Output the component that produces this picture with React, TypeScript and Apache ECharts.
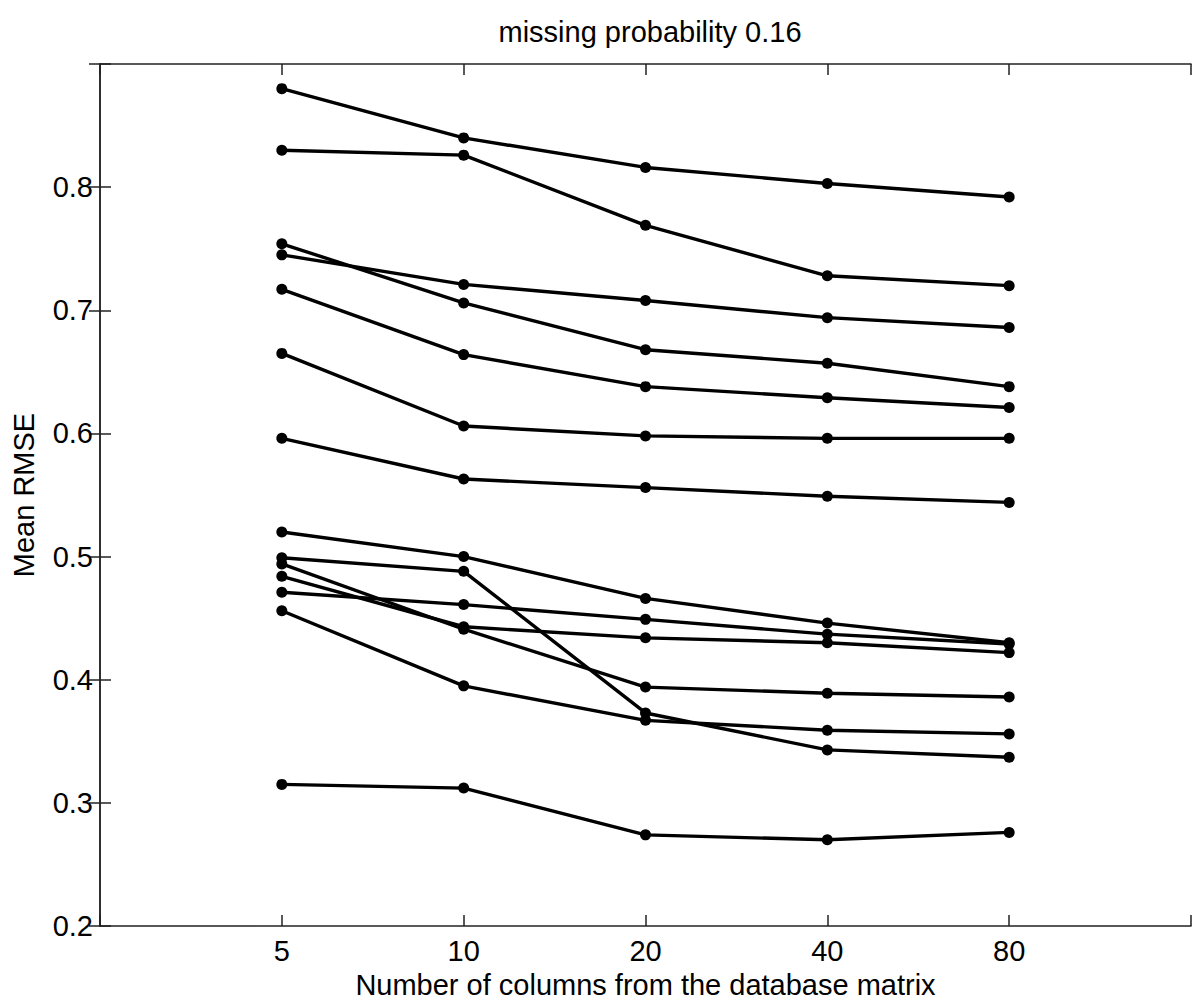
import React, { useEffect, useRef } from "react";
import * as echarts from "echarts";

const columnLabels = ["5", "10", "20", "40", "80"];
const yTicks = [0.2, 0.3, 0.4, 0.5, 0.6, 0.7, 0.8];

const series01 = [0.880, 0.840, 0.816, 0.803, 0.792];
const series02 = [0.830, 0.826, 0.769, 0.728, 0.720];
const series03 = [0.754, 0.706, 0.668, 0.657, 0.638];
const series04 = [0.745, 0.721, 0.708, 0.694, 0.686];
const series05 = [0.717, 0.664, 0.638, 0.629, 0.621];
const series06 = [0.665, 0.606, 0.598, 0.596, 0.596];
const series07 = [0.596, 0.563, 0.556, 0.549, 0.544];
const series08 = [0.520, 0.500, 0.466, 0.446, 0.430];
const series09 = [0.499, 0.488, 0.373, 0.343, 0.337];
const series10 = [0.494, 0.441, 0.394, 0.389, 0.386];
const series11 = [0.484, 0.443, 0.434, 0.430, 0.422];
const series12 = [0.471, 0.461, 0.449, 0.437, 0.429];
const series13 = [0.456, 0.395, 0.367, 0.359, 0.356];
const series14 = [0.315, 0.312, 0.274, 0.270, 0.276];

const allSeries = [
  series01, series02, series03, series04, series05, series06, series07,
  series08, series09, series10, series11, series12, series13, series14,
];

const FONT = "'Liberation Sans', Arial, Helvetica, sans-serif";
const FS = 29;

export default function App() {
  const ref = useRef<HTMLDivElement>(null);
  useEffect(() => {
    if (!ref.current) return;
    const chart = echarts.init(ref.current, undefined, { renderer: "svg" });
    const axisLine = { show: true, lineStyle: { color: "#222", width: 1.5 } };
    const tick = { show: true, inside: true, length: 11, lineStyle: { color: "#222", width: 1.5 } };
    chart.setOption({
      animation: false,
      backgroundColor: "#fff",
      title: {
        text: "missing probability 0.16",
        left: 645,
        top: 12,
        textAlign: "center",
        textStyle: { fontFamily: FONT, fontSize: FS, fontWeight: "normal", color: "#000" },
      },
      grid: { left: 100, top: 64, width: 1091, height: 868, containLabel: false },
      xAxis: [
        {
          type: "value",
          min: 0,
          max: 6,
          interval: 1,
          position: "bottom",
          axisLine,
          axisTick: tick,
          splitLine: { show: false },
          axisLabel: {
            show: true,
            margin: 10,
            fontFamily: FONT,
            fontSize: FS,
            color: "#000",
            formatter: (v: number) => columnLabels[Math.round(v) - 1] ?? "",
          },
          name: "Number of columns from the database matrix",
          nameLocation: "middle",
          nameGap: 44,
          nameTextStyle: { fontFamily: FONT, fontSize: FS, color: "#000" },
        },
        {
          type: "value",
          min: 0,
          max: 6,
          interval: 1,
          position: "top",
          axisLine,
          axisTick: tick,
          splitLine: { show: false },
          axisLabel: { show: false },
        },
      ],
      yAxis: [
        {
          type: "value",
          min: 0.2,
          max: 0.9,
          interval: 0.1,
          position: "left",
          axisLine,
          axisTick: tick,
          splitLine: { show: false },
          axisLabel: {
            show: true,
            margin: 7,
            fontFamily: FONT,
            fontSize: FS,
            color: "#000",
            formatter: (v: number) => {
              const hit = yTicks.find((t) => Math.abs(t - v) < 1e-6);
              return hit !== undefined ? hit.toFixed(1) : "";
            },
          },
          name: "Mean RMSE",
          nameLocation: "middle",
          nameRotate: 90,
          nameGap: 62,
          nameTextStyle: { fontFamily: FONT, fontSize: FS, color: "#000" },
        },
        {
          type: "value",
          min: 0.2,
          max: 0.9,
          interval: 0.1,
          position: "right",
          axisLine,
          axisTick: tick,
          splitLine: { show: false },
          axisLabel: { show: false },
        },
      ],
      series: allSeries.map((vals, i) => ({
        name: `series${i + 1}`,
        type: "line",
        xAxisIndex: 0,
        yAxisIndex: 0,
        data: vals.map((v, j) => [j + 1, v]),
        symbol: "circle",
        symbolSize: 11,
        lineStyle: { color: "#000", width: 3.4 },
        itemStyle: { color: "#000" },
        z: 3,
      })),
    });
    return () => chart.dispose();
  }, []);
  return (
    <div
      ref={ref}
      style={{ position: "fixed", left: 0, top: 0, width: 1200, height: 1004, background: "#fff" }}
    />
  );
}
